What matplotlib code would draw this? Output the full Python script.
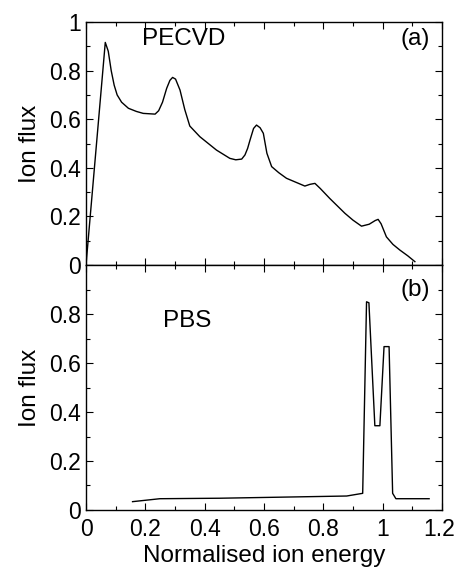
import matplotlib.pyplot as plt
import matplotlib.transforms as mtransforms
import numpy as np

plt.rcParams['font.family'] = ['Liberation Sans', 'DejaVu Sans']

# (a) PECVD ion energy distribution
e_pecvd = [0.0, 0.065, 0.075, 0.085, 0.095, 0.105, 0.12, 0.143, 0.17, 0.193,
           0.233, 0.245, 0.258, 0.272, 0.283, 0.292, 0.302, 0.317, 0.333, 0.35,
           0.384, 0.44, 0.485, 0.505, 0.525, 0.536, 0.545, 0.553, 0.565, 0.575,
           0.587, 0.598, 0.61, 0.626, 0.65, 0.676, 0.738, 0.755, 0.772, 0.79,
           0.822, 0.873, 0.9, 0.929, 0.955, 0.975, 0.985, 0.995, 1.013, 1.035,
           1.058, 1.085, 1.109]
f_pecvd = [0.0, 0.916, 0.88, 0.80, 0.74, 0.70, 0.67, 0.645, 0.632, 0.624,
           0.621, 0.635, 0.67, 0.727, 0.76, 0.772, 0.765, 0.72, 0.64, 0.572,
           0.528, 0.473, 0.439, 0.433, 0.436, 0.453, 0.48, 0.514, 0.562, 0.576,
           0.565, 0.542, 0.46, 0.405, 0.38, 0.357, 0.325, 0.332, 0.336, 0.315,
           0.274, 0.213, 0.185, 0.160, 0.168, 0.183, 0.188, 0.17, 0.116, 0.085,
           0.062, 0.038, 0.014]

# (b) PBS ion energy distribution
e_pbs = [0.157, 0.249, 0.452, 0.879, 0.933, 0.946, 0.954, 0.974, 0.991,
         1.005, 1.022, 1.034, 1.045, 1.157]
f_pbs = [0.034, 0.046, 0.048, 0.057, 0.068, 0.85, 0.846, 0.344, 0.344,
         0.667, 0.667, 0.068, 0.046, 0.046]

xticks = [0, 0.2, 0.4, 0.6, 0.8, 1.0, 1.2]
xlabels = ['0', '0.2', '0.4', '0.6', '0.8', '1', '1.2']

fig = plt.figure(figsize=(4.56, 5.7), dpi=100)
ax1 = fig.add_axes([0.1886, 0.535, 0.7804, 0.4264])
ax2 = fig.add_axes([0.1886, 0.1053, 0.7804, 0.4297], sharex=ax1)

fs = 17.5
tfs = 16.5

def style(ax, yticks):
    ax.set_xlim(0, 1.2)
    ax.set_ylim(0, 1)
    ax.set_xticks(xticks)
    ax.set_xticks(np.arange(0.1, 1.2, 0.2), minor=True)
    ax.set_yticks(yticks)
    ax.set_yticks(np.arange(0.1, 1.0, 0.2), minor=True)
    ax.tick_params(which='both', direction='in', top=True, right=True, labelsize=tfs, width=0.8)
    ax.tick_params(which='major', length=5)
    ax.tick_params(which='minor', length=3)
    for s in ax.spines.values():
        s.set_linewidth(1.0)
    ax.set_ylabel('Ion flux', fontsize=fs, labelpad=6)
    ax.set_yticklabels(['0' if t == 0 else ('1' if t == 1 else f'{t:.1f}') for t in yticks])

# top panel
ax1.plot(e_pecvd, f_pecvd, color='k', lw=1.0)
style(ax1, [0, 0.2, 0.4, 0.6, 0.8, 1.0])
ax1.tick_params(labelbottom=False)
ax1.text(0.33, 0.93, 'PECVD', fontsize=fs, ha='center', va='center')
ax1.text(1.11, 0.93, '(a)', fontsize=fs, ha='center', va='center')

# bottom panel
ax2.plot(e_pbs, f_pbs, color='k', lw=1.0)
style(ax2, [0, 0.2, 0.4, 0.6, 0.8])
ax2.set_xticklabels(xlabels)
ax2.tick_params(axis='x', pad=6)
ax2.set_xlabel('Normalised ion energy', fontsize=fs, labelpad=3)
ax2.text(0.34, 0.77, 'PBS', fontsize=fs, ha='center', va='center')
ax2.text(1.11, 0.9, '(b)', fontsize=fs, ha='center', va='center')

# nudge the last x label so it stays inside the figure
last = ax2.get_xticklabels()[-1]
last.set_transform(last.get_transform() + mtransforms.ScaledTranslation(-3 / 100, 0, fig.dpi_scale_trans))

fig.savefig('out.png', dpi=100)
